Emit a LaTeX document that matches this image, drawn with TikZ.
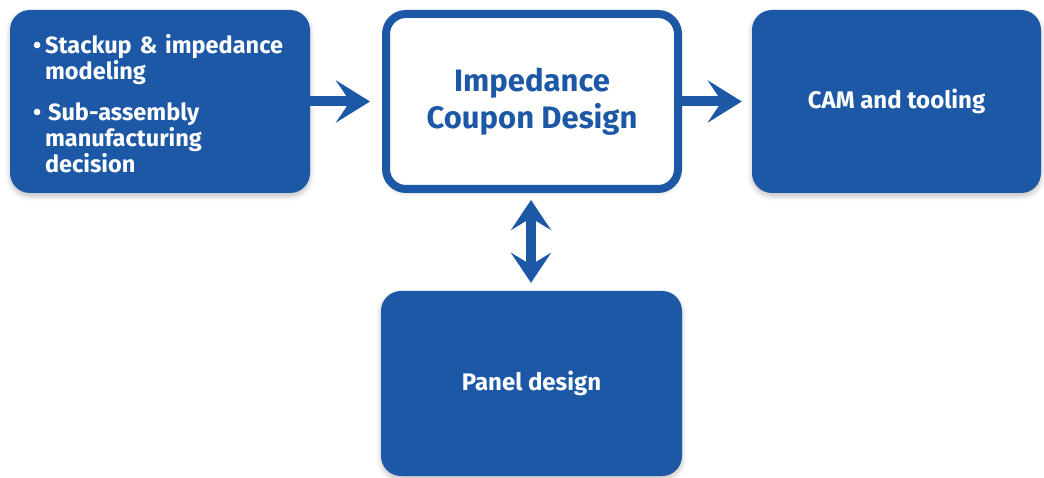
\documentclass[tikz,border=0pt]{standalone}
\usepackage{fontspec}
\setmainfont{Fira Sans}
\usetikzlibrary{arrows.meta,shadows.blur}
\definecolor{pcbblue}{RGB}{29,88,167}
\begin{document}
\begin{tikzpicture}[x=1pt,y=-1pt,
  boxbase/.style={rounded corners=20pt, blur shadow={shadow xshift=0pt, shadow yshift=-3pt, shadow blur steps=6, shadow opacity=25, shadow blur radius=5pt}},
  bluebox/.style={boxbase, fill=pcbblue, text=white, draw=none, inner sep=0pt, font=\bfseries\fontsize{24}{28}\selectfont},
  whitebox/.style={boxbase, fill=white, draw=pcbblue, line width=8pt, text=pcbblue, inner sep=0pt, align=center, font=\bfseries\fontsize{31}{37}\selectfont},
  flow/.style={draw=pcbblue, line width=10pt, -{Stealth[length=34pt, width=42pt, inset=14pt]}},
  flowboth/.style={draw=pcbblue, line width=10pt, {Stealth[length=30pt, width=40pt, inset=12pt]}-{Stealth[length=30pt, width=40pt, inset=12pt]}}]
\useasboundingbox (0,0) rectangle (1044,478);
\node[bluebox, minimum width=300pt, minimum height=183pt, text width=254pt, align=left,
      font=\bfseries\fontsize{23.5}{26.5}\selectfont] (plan) at (160,101.5)
  {\raisebox{0pt}[\dimexpr\height+12pt\relax][\depth]{\begin{tabular}{@{}l@{\hspace{4pt}}l@{}}
   \textbullet & Stackup \& impedance\\[-1pt]
    & modeling\\[14pt]
   \textbullet & \hspace{3pt}Sub-assembly\\[-1pt]
    & manufacturing\\[-1pt]
    & decision
   \end{tabular}}};
\node[whitebox, minimum width=292pt, minimum height=175pt] (coupon) at (532,101.5) {Impedance\\Coupon Design};
\node[bluebox, minimum width=289pt, minimum height=183pt] (cam) at (896.5,101.5) {CAM and tooling};
\node[bluebox, minimum width=301pt, minimum height=185pt] (panel) at (531.5,383.5) {Panel design};
\draw[flow, shorten >=12pt] (plan.east) -- (coupon.west);
\draw[flow, shorten >=10pt] (coupon.east) -- (cam.west);
\draw[flowboth, shorten <=7pt, shorten >=8pt] ([xshift=-1pt]coupon.south) -- ([xshift=-0.5pt]panel.north);
\end{tikzpicture}
\end{document}
